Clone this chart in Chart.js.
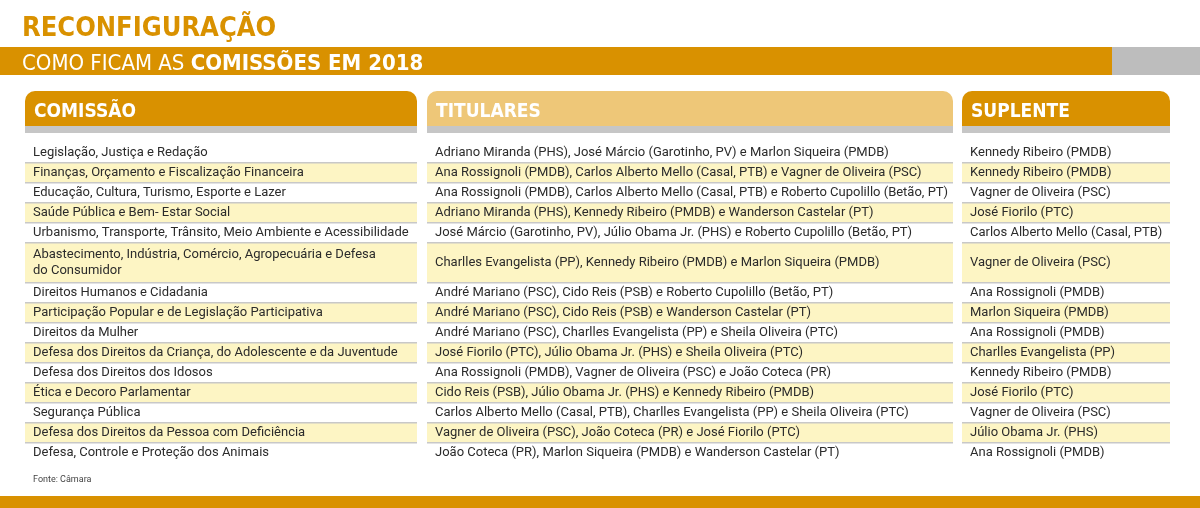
<!DOCTYPE html>
<html><head><meta charset="utf-8">
<script src="https://cdn.jsdelivr.net/npm/chart.js@4"></script>
<style>html,body{margin:0;padding:0;background:#fff}#wrap{width:1200px;height:508px}</style>
</head><body><div id="wrap"><canvas id="c"></canvas></div>
<script>
const columns = ['COMISSÃO', 'TITULARES', 'SUPLENTE'];
const comissoes = [
  'Legislação, Justiça e Redação',
  'Finanças, Orçamento e Fiscalização Financeira',
  'Educação, Cultura, Turismo, Esporte e Lazer',
  'Saúde Pública e Bem- Estar Social',
  'Urbanismo, Transporte, Trânsito, Meio Ambiente e Acessibilidade',
  'Abastecimento, Indústria, Comércio, Agropecuária e Defesa\ndo Consumidor',
  'Direitos Humanos e Cidadania',
  'Participação Popular e de Legislação Participativa',
  'Direitos da Mulher',
  'Defesa dos Direitos da Criança, do Adolescente e da Juventude',
  'Defesa dos Direitos dos Idosos',
  'Ética e Decoro Parlamentar',
  'Segurança Pública',
  'Defesa dos Direitos da Pessoa com Deficiência',
  'Defesa, Controle e Proteção dos Animais'
];
const titulares = [
  'Adriano Miranda (PHS), José Márcio (Garotinho, PV) e Marlon Siqueira (PMDB)',
  'Ana Rossignoli (PMDB), Carlos Alberto Mello (Casal, PTB) e Vagner de Oliveira (PSC)',
  'Ana Rossignoli (PMDB), Carlos Alberto Mello (Casal, PTB) e Roberto Cupolillo (Betão, PT)',
  'Adriano Miranda (PHS), Kennedy Ribeiro (PMDB) e Wanderson Castelar (PT)',
  'José Márcio (Garotinho, PV), Júlio Obama Jr. (PHS) e Roberto Cupolillo (Betão, PT)',
  'Charlles Evangelista (PP), Kennedy Ribeiro (PMDB) e Marlon Siqueira (PMDB)',
  'André Mariano (PSC), Cido Reis (PSB) e Roberto Cupolillo (Betão, PT)',
  'André Mariano (PSC), Cido Reis (PSB) e Wanderson Castelar (PT)',
  'André Mariano (PSC), Charlles Evangelista (PP) e Sheila Oliveira (PTC)',
  'José Fiorilo (PTC), Júlio Obama Jr. (PHS) e Sheila Oliveira (PTC)',
  'Ana Rossignoli (PMDB), Vagner de Oliveira (PSC) e João Coteca (PR)',
  'Cido Reis (PSB), Júlio Obama Jr. (PHS) e Kennedy Ribeiro (PMDB)',
  'Carlos Alberto Mello (Casal, PTB), Charlles Evangelista (PP) e Sheila Oliveira (PTC)',
  'Vagner de Oliveira (PSC), João Coteca (PR) e José Fiorilo (PTC)',
  'João Coteca (PR), Marlon Siqueira (PMDB) e Wanderson Castelar (PT)'
];
const suplentes = [
  'Kennedy Ribeiro (PMDB)', 'Kennedy Ribeiro (PMDB)', 'Vagner de Oliveira (PSC)',
  'José Fiorilo (PTC)', 'Carlos Alberto Mello (Casal, PTB)', 'Vagner de Oliveira (PSC)',
  'Ana Rossignoli (PMDB)', 'Marlon Siqueira (PMDB)', 'Ana Rossignoli (PMDB)',
  'Charlles Evangelista (PP)', 'Kennedy Ribeiro (PMDB)', 'José Fiorilo (PTC)',
  'Vagner de Oliveira (PSC)', 'Júlio Obama Jr. (PHS)', 'Ana Rossignoli (PMDB)'
];

// layout in pixel-like units of the linear scales
const colX = [[25, 417], [427, 953], [962, 1170]];
const tabColors = ['#d99100', '#eec778', '#d99100'];
const ROW_TOP = 143, LINE_H = 20;

// row extents come from the number of text lines per row
const rowTops = [];
let acc = ROW_TOP;
comissoes.forEach(t => { rowTops.push(acc); acc += t.split('\n').length * LINE_H; });

const tablePlugin = {
  id: 'table',
  beforeDatasetsDraw(chart) {
    const { ctx, scales: { x, y } } = chart;
    const X = v => x.getPixelForValue(v), Y = v => y.getPixelForValue(v);
    ctx.save();
    // title
    ctx.fillStyle = '#d99100';
    ctx.font = 'bold 27px "Liberation Sans Narrow", "DejaVu Sans Condensed", sans-serif';
    ctx.textBaseline = 'alphabetic';
    ctx.fillText('RECONFIGURAÇÃO', X(22), Y(36));
    // banner
    ctx.fillRect(X(0), Y(47), X(1112) - X(0), Y(75) - Y(47));
    ctx.fillStyle = '#bdbdbd';
    ctx.fillRect(X(1112), Y(47), X(1200) - X(1112), Y(75) - Y(47));
    ctx.fillStyle = '#fff';
    ctx.font = '22px "Liberation Sans Narrow", "DejaVu Sans Condensed", sans-serif';
    const pre = 'COMO FICAM AS ';
    ctx.fillText(pre, X(22), Y(70));
    const w = ctx.measureText(pre).width;
    ctx.font = 'bold 22px "Liberation Sans Narrow", "DejaVu Sans Condensed", sans-serif';
    ctx.fillText('COMISSÕES EM 2018', X(22) + w, Y(70));
    // bottom bar
    ctx.fillStyle = '#d99100';
    ctx.fillRect(X(0), Y(496), X(1200) - X(0), Y(508) - Y(496));
    // column headers
    columns.forEach((c, i) => {
      const [a, b] = colX[i];
      ctx.fillStyle = tabColors[i];
      ctx.beginPath();
      ctx.roundRect(X(a), Y(91), X(b) - X(a), Y(126) - Y(91), [10, 10, 0, 0]);
      ctx.fill();
      ctx.fillStyle = '#c6c6c6';
      ctx.fillRect(X(a), Y(126), X(b) - X(a), Y(133) - Y(126));
      ctx.fillStyle = '#fff';
      ctx.font = 'bold 19px "Liberation Sans Narrow", "DejaVu Sans Condensed", sans-serif';
      ctx.fillText(c, X(a + 9), Y(117));
    });
    // rows
    const cols = [comissoes, titulares, suplentes];
    ctx.font = '13px Roboto, sans-serif';
    comissoes.forEach((_, r) => {
      const top = rowTops[r];
      const bottom = r + 1 < rowTops.length ? rowTops[r + 1] : acc;
      cols.forEach((arr, i) => {
        const [a, b] = colX[i];
        if (r % 2 === 1) {
          ctx.fillStyle = '#fdf5c4';
          ctx.fillRect(X(a), Y(top), X(b) - X(a), Y(bottom) - Y(top));
        }
        if (r > 0) {
          ctx.fillStyle = '#c8c8c8';
          ctx.fillRect(X(a), Y(top) - 1, X(b) - X(a), 1.5);
        }
        ctx.fillStyle = '#2b2b2b';
        ctx.textBaseline = 'middle';
        const lines = arr[r].split('\n');
        const mid = (top + bottom) / 2;
        lines.forEach((ln, k) => {
          const yy = mid + (k - (lines.length - 1) / 2) * 16;
          ctx.fillText(ln, X(a + 8), Y(yy));
        });
      });
    });
    ctx.textBaseline = 'alphabetic';
    ctx.font = '9px Roboto, sans-serif';
    ctx.fillStyle = '#444';
    ctx.fillText('Fonte: Câmara', X(33), Y(482));
    ctx.restore();
  }
};

new Chart(document.getElementById('c'), {
  type: 'scatter',
  data: { datasets: [{ data: [] }] },
  options: {
    responsive: true, maintainAspectRatio: false, animation: false,
    layout: { padding: 0 },
    plugins: { legend: { display: false }, tooltip: { enabled: false } },
    scales: {
      x: { type: 'linear', min: 0, max: 1200, display: false },
      y: { type: 'linear', min: 0, max: 508, reverse: true, display: false }
    }
  },
  plugins: [tablePlugin]
});
</script></body></html>
